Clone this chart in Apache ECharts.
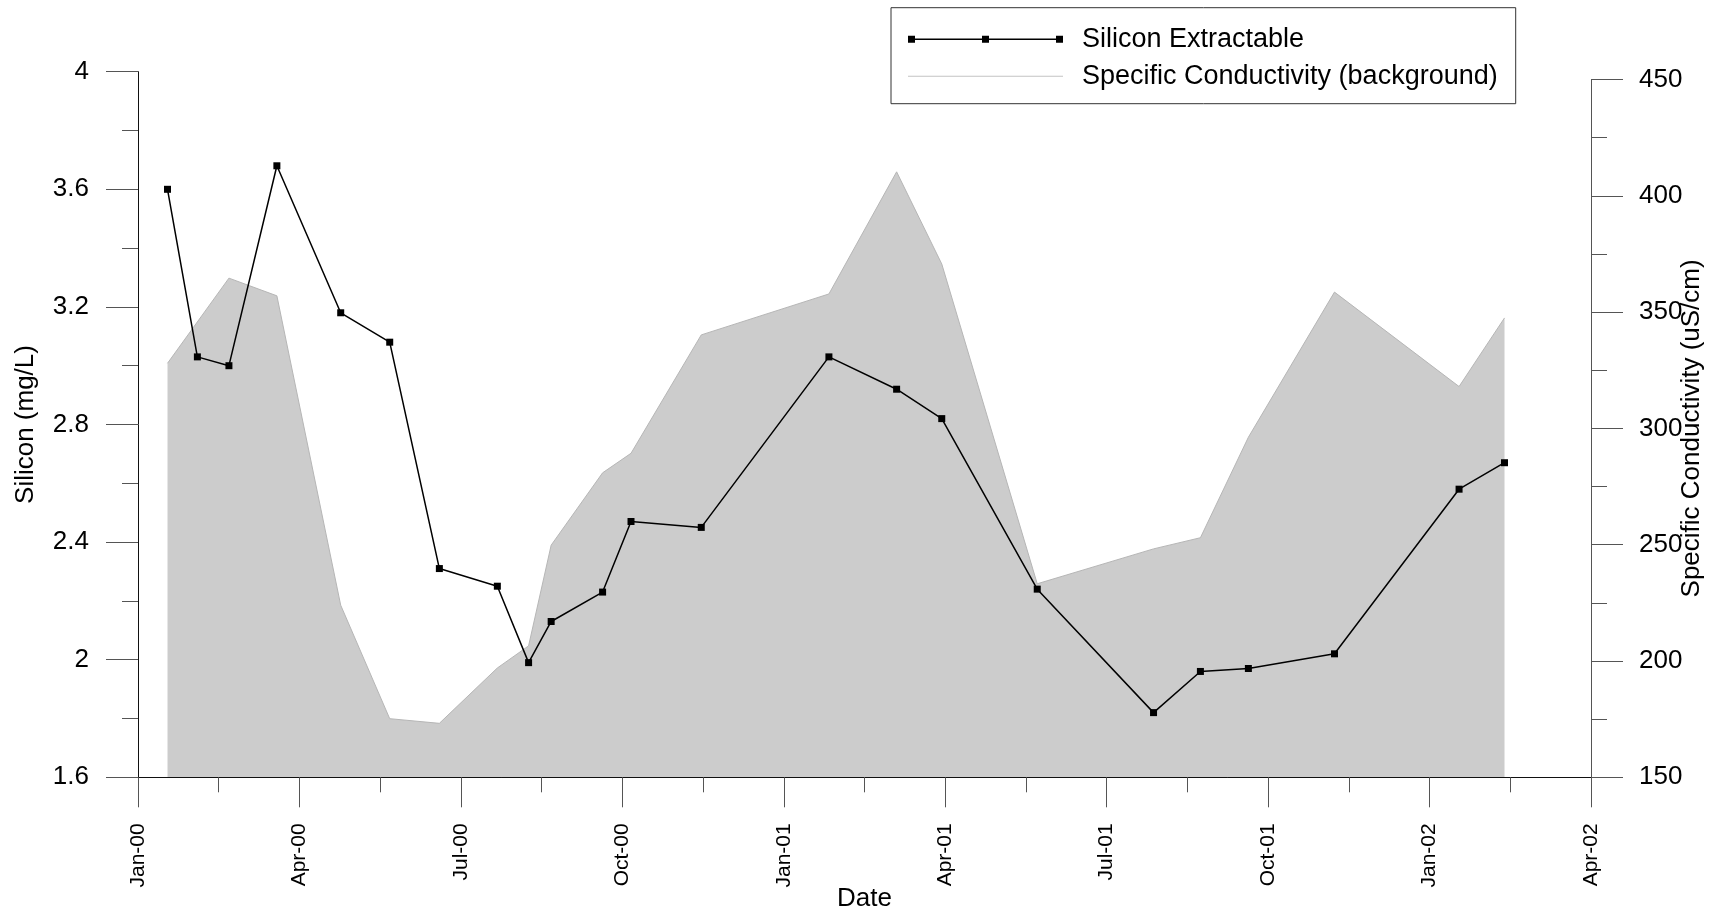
<!DOCTYPE html>
<html>
<head>
<meta charset="utf-8">
<script src="https://cdn.jsdelivr.net/npm/echarts@6/dist/echarts.min.js"></script>
<style>
html,body{margin:0;padding:0;background:#fff;}
#chart{width:1718px;height:914px;}
</style>
</head>
<body>
<div id="chart"></div>
<script>
// ---- data ----
const xTickLabels = ['Jan-00','Apr-00','Jul-00','Oct-00','Jan-01','Apr-01','Jul-01','Oct-01','Jan-02','Apr-02'];

const siliconDates = ['2000-01-18','2000-02-04','2000-02-21','2000-03-19','2000-04-24','2000-05-22','2000-06-19','2000-07-22','2000-08-09','2000-08-22','2000-09-20','2000-10-06','2000-11-15','2001-01-27','2001-03-04','2001-03-30','2001-05-23','2001-07-28','2001-08-24','2001-09-20','2001-11-08','2002-01-18','2002-02-12'];
const siliconValues = [3.60,3.03,3.00,3.68,3.18,3.08,2.31,2.25,1.99,2.13,2.23,2.47,2.45,3.03,2.92,2.82,2.24,1.82,1.96,1.97,2.02,2.58,2.67];

const condDates = ['2000-01-18','2000-02-21','2000-03-19','2000-04-24','2000-05-22','2000-06-19','2000-07-22','2000-08-09','2000-08-22','2000-09-20','2000-10-06','2000-11-15','2001-01-27','2001-03-04','2001-03-30','2001-05-23','2001-07-28','2001-08-24','2001-09-20','2001-11-08','2002-01-18','2002-02-12'];
const condValues = [328,364.6,357,224,175.2,173.2,197,206.5,249.8,280.9,289.3,340.2,357.8,410.3,370.7,233.2,248.2,253.0,296.2,358.6,318.0,347.5];

// months elapsed since 1 Jan 2000 (axis unit)
function monthIndex(s){
  const p = s.split('-').map(Number);
  const dim = new Date(p[0], p[1], 0).getDate();
  return (p[0]-2000)*12 + (p[1]-1) + (p[2]-1)/dim;
}

const FONT = '"Liberation Sans", Arial, sans-serif';
const chart = echarts.init(document.getElementById('chart'), null, {renderer:'canvas'});

const siliconIcon = 'path://M0,0L0,0Z M0,9L0,9Z M0,1L7,1L7,8L0,8Z M74,1L81,1L81,8L74,8Z M148,1L155,1L155,8L148,8Z M0,3.8L155,3.8L155,5.3L0,5.3Z';
const condIcon = 'path://M0,0L0,0Z M0,9L0,9Z M0,4L155,4L155,5L0,5Z';

const option = {
  animation:false,
  backgroundColor:'#fff',
  textStyle:{fontFamily:FONT},
  grid:[
    {left:138, right:127, top:71.7, bottom:136.7, containLabel:false, outerBoundsMode:'none'},
    {left:138, right:127, top:79.5, bottom:136.7, containLabel:false, outerBoundsMode:'none'}
  ],
  legend:{
    left:891, top:7.7, orient:'vertical',
    padding:[18,18,14,17], itemGap:10, itemWidth:155, itemHeight:9,
    borderColor:'#333', borderWidth:1,
    itemStyle:{borderWidth:0},
    textStyle:{fontSize:27, color:'#000', fontFamily:FONT, lineHeight:27, padding:[0,0,0,14]},
    data:[
      {name:'Silicon Extractable', icon:siliconIcon, itemStyle:{color:'#000'}},
      {name:'Specific Conductivity (background)', icon:condIcon, itemStyle:{color:'#c4c4c4'}}
    ]
  },
  xAxis:[
    {
      gridIndex:0, type:'value', min:0, max:27, interval:3, z:10,
      axisLine:{show:true, onZero:false, lineStyle:{color:'#111', width:1}},
      axisTick:{show:true, length:30, lineStyle:{color:'#555', width:1}},
      minorTick:{show:true, splitNumber:2, length:15, lineStyle:{color:'#555', width:1}},
      splitLine:{show:false}, minorSplitLine:{show:false},
      axisLabel:{rotate:90, margin:46, fontSize:21, color:'#000', fontFamily:FONT,
        showMinLabel:true, showMaxLabel:true,
        formatter:function(v){ return xTickLabels[Math.round(v/3)]; }},
      name:'Date', nameLocation:'middle', nameGap:109, nameMoveOverlap:false,
      nameTextStyle:{fontSize:26, color:'#000', fontFamily:FONT}
    },
    {gridIndex:1, type:'value', min:0, max:27, show:false}
  ],
  yAxis:[
    {
      gridIndex:0, type:'value', min:1.6, max:4, interval:0.4, position:'left', z:10,
      axisLine:{show:true, onZero:false, lineStyle:{color:'#111', width:1}},
      axisTick:{show:true, length:32, lineStyle:{color:'#555', width:1}},
      minorTick:{show:true, splitNumber:2, length:16, lineStyle:{color:'#555', width:1}},
      splitLine:{show:false}, minorSplitLine:{show:false},
      axisLabel:{margin:49, fontSize:26, color:'#000', fontFamily:FONT, showMinLabel:true, showMaxLabel:true},
      name:'Silicon (mg/L)', nameLocation:'middle', nameRotate:90, nameGap:99, nameMoveOverlap:false,
      nameTextStyle:{fontSize:26, color:'#000', fontFamily:FONT}
    },
    {
      gridIndex:1, type:'value', min:150, max:450, interval:50, position:'right', z:10,
      axisLine:{show:true, onZero:false, lineStyle:{color:'#555', width:1}},
      axisTick:{show:true, length:32, lineStyle:{color:'#555', width:1}},
      minorTick:{show:true, splitNumber:2, length:16, lineStyle:{color:'#555', width:1}},
      splitLine:{show:false}, minorSplitLine:{show:false},
      axisLabel:{margin:48, fontSize:26, color:'#000', fontFamily:FONT, showMinLabel:true, showMaxLabel:true},
      name:'Specific Conductivity (uS/cm)', nameLocation:'middle', nameRotate:90, nameGap:88, nameMoveOverlap:false,
      nameTextStyle:{fontSize:26, color:'#000', fontFamily:FONT}
    }
  ],
  series:[
    {
      name:'Specific Conductivity (background)', type:'line', xAxisIndex:1, yAxisIndex:1,
      data: condDates.map(function(d,i){ return [monthIndex(d), condValues[i]]; }),
      symbol:'none', z:1,
      itemStyle:{color:'#c4c4c4'},
      lineStyle:{color:'#b6b6b6', width:1},
      areaStyle:{color:'#cccccc', opacity:1, origin:'start'}
    },
    {
      name:'Silicon Extractable', type:'line', xAxisIndex:0, yAxisIndex:0,
      data: siliconDates.map(function(d,i){ return [monthIndex(d), siliconValues[i]]; }),
      symbol:'rect', symbolSize:7, z:3,
      itemStyle:{color:'#000'},
      lineStyle:{color:'#000', width:1.5}
    }
  ]
};
chart.setOption(option);
</script>
</body>
</html>
